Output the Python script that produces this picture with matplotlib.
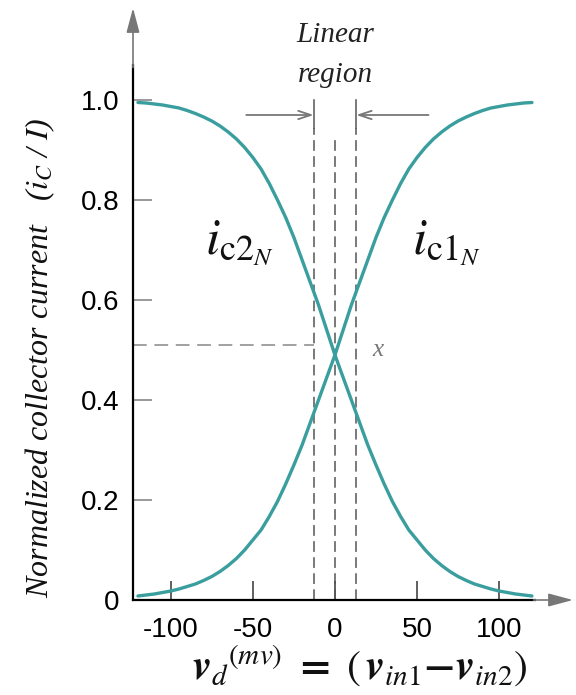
import matplotlib
matplotlib.use("Agg")
import matplotlib.pyplot as plt

plt.rcParams['mathtext.fontset'] = 'stix'

# ---- data ----
vd = [-120, -115, -110, -105, -100, -95, -90, -85, -80, -75, -70, -65, -60,
      -55, -50, -45, -40, -35, -30, -25, -20, -15, -10, -5, 0,
      5, 10, 15, 20, 25, 30, 35, 40, 45, 50, 55, 60, 65, 70,
      75, 80, 85, 90, 95, 100, 105, 110, 115, 120]
ic1 = [0.008, 0.010, 0.012, 0.015, 0.018, 0.022, 0.027, 0.032, 0.039, 0.047,
       0.057, 0.069, 0.083, 0.100, 0.120, 0.140, 0.167, 0.197, 0.232, 0.270,
       0.310, 0.355, 0.400, 0.445, 0.490, 0.540, 0.590, 0.635, 0.680, 0.725,
       0.765, 0.800, 0.833, 0.862, 0.885, 0.905, 0.922, 0.936, 0.948, 0.958,
       0.966, 0.973, 0.979, 0.984, 0.987, 0.990, 0.992, 0.994, 0.995]
ic2 = [0.995, 0.994, 0.992, 0.990, 0.987, 0.984, 0.979, 0.973, 0.966, 0.958,
       0.948, 0.936, 0.922, 0.905, 0.885, 0.862, 0.833, 0.800, 0.765, 0.725,
       0.680, 0.635, 0.590, 0.540, 0.490, 0.445, 0.400, 0.355, 0.310, 0.270,
       0.232, 0.197, 0.167, 0.140, 0.120, 0.100, 0.083, 0.069, 0.057, 0.047,
       0.039, 0.032, 0.027, 0.022, 0.018, 0.015, 0.012, 0.010, 0.008]
xticks = [-100, -50, 0, 50, 100]
xticklabels = ['-100', '-50', '0', '50', '100']
yticks = [0, 0.2, 0.4, 0.6, 0.8, 1.0]
yticklabels = ['0', '0.2', '0.4', '0.6', '0.8', '1.0']
linear_bounds = [-13, 13]
half_level = 0.51

teal = '#3a9e9e'
tick_font = dict(family=['Liberation Sans Narrow', 'Liberation Sans', 'DejaVu Sans'], size=20)

fig = plt.figure(figsize=(5.76, 6.95), dpi=100)
ax = fig.add_axes([133/576, 95/695, 440/576, 592/695])
ax.set_xlim(-123, 145)
ax.set_ylim(0, 1.184)
ax.patch.set_alpha(0)

for s in ['top', 'right']:
    ax.spines[s].set_visible(False)
ax.spines['left'].set_bounds(0, 1.07)
ax.spines['bottom'].set_bounds(-123, 122)
ax.spines['left'].set_linewidth(1.6)
ax.spines['bottom'].set_linewidth(1.6)

# axis arrows
ax.annotate('', xy=(-123, 1.184), xytext=(-123, 1.065),
            arrowprops=dict(arrowstyle='-|>,head_length=1.5,head_width=0.4',
                            color='#777777', lw=1.2, shrinkA=0, shrinkB=0),
            annotation_clip=False)
ax.annotate('', xy=(145, 0), xytext=(121, 0),
            arrowprops=dict(arrowstyle='-|>,head_length=1.5,head_width=0.4',
                            color='#777777', lw=1.2, shrinkA=0, shrinkB=0),
            annotation_clip=False)

ax.set_xticks(xticks)
ax.set_xticklabels(xticklabels, fontdict=tick_font)
ax.set_yticks(yticks)
ax.set_yticklabels(yticklabels, fontdict=tick_font)
ax.tick_params(axis='x', direction='in', length=14, width=1.2, color='#444444', pad=12)
ax.tick_params(axis='y', direction='in', length=14, width=1.2, color='#888888', pad=10)

# curves
ax.plot(vd, ic1, color=teal, lw=2.4, solid_capstyle='round', zorder=3)
ax.plot(vd, ic2, color=teal, lw=2.4, solid_capstyle='round', zorder=3)

# linear region markers
dash = (0, (7, 3.5))
for xb in linear_bounds:
    ax.plot([xb, xb], [0, 0.945], color='#555555', lw=1.1, linestyle=dash, zorder=2)
    ax.plot([xb, xb], [0.945, 1.0], color='#555555', lw=1.1, zorder=2)
ax.plot([0, 0], [0, 0.93], color='#555555', lw=1.1, linestyle=dash, zorder=2)
ax.plot([-123, linear_bounds[0]], [half_level, half_level], color='#888888', lw=1.1,
        linestyle=(0, (9, 5)), zorder=2)

ax.annotate('', xy=(linear_bounds[0], 0.97), xytext=(-54, 0.97),
            arrowprops=dict(arrowstyle='->,head_length=0.9,head_width=0.3',
                            color='#777777', lw=1.3, shrinkA=0, shrinkB=0))
ax.annotate('', xy=(linear_bounds[1], 0.97), xytext=(57, 0.97),
            arrowprops=dict(arrowstyle='->,head_length=0.9,head_width=0.3',
                            color='#777777', lw=1.3, shrinkA=0, shrinkB=0))

serif_it = dict(family=['Liberation Serif', 'DejaVu Serif'], style='italic')
ax.text(0, 1.13, 'Linear', ha='center', va='center', fontsize=21, color='#222222', **serif_it)
ax.text(0, 1.05, 'region', ha='center', va='center', fontsize=21, color='#222222', **serif_it)
ax.text(26, 0.5, 'x', ha='center', va='center', fontsize=18, color='#777777', **serif_it)

ax.text(-58, 0.715, r'$i_{\mathrm{c}2_{N}}$', ha='center', va='center', fontsize=37, color='#111111')
ax.text(68, 0.715, r'$i_{\mathrm{c}1_{N}}$', ha='center', va='center', fontsize=37, color='#111111')

# axis labels
fig.text(40/576, 1 - 358/695, r'Normalized collector current   ($i_C$ / $I$)',
         rotation=90, ha='center', va='center', fontsize=23, color='#111111', **serif_it)
fig.text(360/576, 1 - 666/695,
         r'$\mathbfit{v}_{d}{}^{(mv)}\ \mathbf{=}\ (\,\mathbfit{v}_{in1}\mathbf{-}\mathbfit{v}_{in2})$',
         ha='center', va='center', fontsize=30, color='#111111')

fig.savefig('out.png', dpi=100)
